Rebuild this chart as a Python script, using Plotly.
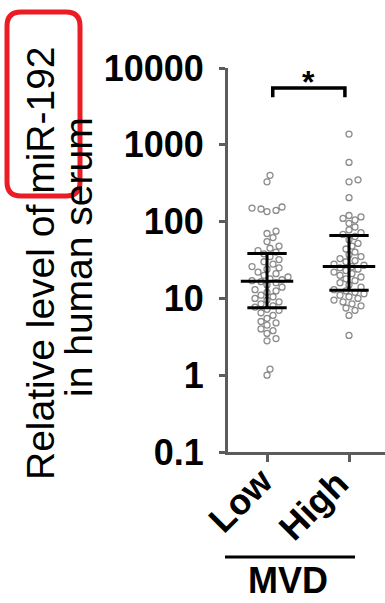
import numpy as np
import plotly.graph_objects as go

# Relative serum miR-192 levels by microvessel density (MVD) group
categories = ["Low", "High"]

low_mvd = [400, 330, 155, 150, 146, 140, 135,
           75, 70, 62, 55,
           48, 45, 42, 40, 38,
           35, 32, 30, 28, 26, 25, 24, 22, 21, 20, 19, 18, 17.5, 17, 16.5,
           16, 15, 14, 13, 12.5, 12, 11, 10.5, 10, 9.5, 9, 8.5, 8, 7.7,
           7.2, 7, 6.5, 6, 5.5, 5, 4.8, 4.5, 4, 3.8, 3.5, 3, 2.8,
           1.2, 1.0]

high_mvd = [1380, 590, 350, 330, 205, 120, 115, 110, 105,
            95, 85, 78, 72, 68, 64,
            58, 52, 48, 44, 40, 37, 35, 33, 31, 30, 28, 27, 26,
            25, 24, 23, 22, 21, 20, 19, 18, 17, 16, 15, 14, 13, 12.5,
            12, 11.5, 11, 10.5, 10, 9.5, 9, 8.5, 8, 7.5, 7, 6, 3.3]

groups = [low_mvd, high_mvd]

y_tick_vals = [0.1, 1, 10, 100, 1000, 10000]
y_tick_text = ["0.1", "1", "10", "100", "1000", "10000"]

# figure geometry (pixels)
W, H = 385, 603
ML, MR, MT, MB = 228, 0, 68, 151
PW, PH = W - ML - MR, H - MT - MB
X_RANGE = [-0.476, 1.439]
Y_RANGE = [-1, 4]
px_per_x = PW / (X_RANGE[1] - X_RANGE[0])
px_per_dec = PH / (Y_RANGE[1] - Y_RANGE[0])


def beeswarm(values, min_dist=6.5, step=3.0):
    """Horizontal offsets (in x data units) so markers do not overlap."""
    ys = np.log10(np.asarray(values, dtype=float)) * px_per_dec
    order = np.argsort(ys)
    placed = []
    offsets = np.zeros(len(ys))
    for i in order:
        k = 0
        while True:
            cands = [0.0] if k == 0 else [k * step, -k * step]
            ok = None
            for c in cands:
                if all((c - px) ** 2 + (ys[i] - py) ** 2 >= min_dist ** 2 for px, py in placed):
                    ok = c
                    break
            if ok is not None:
                placed.append((ok, ys[i]))
                offsets[i] = ok
                break
            k += 1
    return offsets / px_per_x


def px2paper_x(px):
    return (px - ML) / PW


def px2paper_y(py):
    return (H - MB - py) / PH


fig = go.Figure()

for gi, vals in enumerate(groups):
    offs = beeswarm(vals)
    fig.add_trace(go.Scatter(
        x=gi + offs, y=vals, mode="markers",
        marker=dict(symbol="circle-open", size=6, color="rgba(120,120,120,0.85)",
                    line=dict(width=1.3)),
        hoverinfo="y", showlegend=False))

    q1, med, q3 = np.percentile(vals, [25, 50, 75])
    # median with interquartile range
    fig.add_trace(go.Scatter(x=[gi - 0.32, gi + 0.32], y=[med, med], mode="lines",
                             line=dict(color="black", width=3), showlegend=False, hoverinfo="skip"))
    for q in (q1, q3):
        fig.add_trace(go.Scatter(x=[gi - 0.24, gi + 0.24], y=[q, q], mode="lines",
                                 line=dict(color="black", width=3), showlegend=False, hoverinfo="skip"))
    fig.add_trace(go.Scatter(x=[gi, gi], y=[q1, q3], mode="lines",
                             line=dict(color="black", width=3), showlegend=False, hoverinfo="skip"))

# significance bracket
br_top, br_foot = 5500, 4150
fig.add_trace(go.Scatter(x=[0.07, 0.07, 0.95, 0.95], y=[br_foot, br_top, br_top, br_foot],
                         mode="lines", line=dict(color="black", width=3.5),
                         showlegend=False, hoverinfo="skip"))

FONT = "Liberation Sans, Arial, sans-serif"
tick_font = dict(family=FONT, size=36, color="black", weight="bold")
axis_col = "#5c5c5c"

fig.update_xaxes(range=X_RANGE, tickvals=[0, 1], showticklabels=False,
                 showline=True, linecolor=axis_col, linewidth=3, ticks="outside",
                 tickcolor=axis_col, tickwidth=2.5, ticklen=7, showgrid=False,
                 zeroline=False, automargin=False)
fig.update_yaxes(type="log", range=Y_RANGE, tickvals=y_tick_vals, ticktext=y_tick_text,
                 showline=True, linecolor=axis_col, linewidth=3, ticks="outside",
                 tickcolor=axis_col, tickwidth=2.5, ticklen=6, showgrid=False,
                 zeroline=False, tickfont=tick_font, ticklabelstandoff=8, automargin=False)

title_font = dict(family=FONT, size=39, color="black")
annotations = [
    dict(text="Relative level of miR-192", x=px2paper_x(40), y=px2paper_y(263),
         textangle=-90, font=title_font),
    dict(text="in human serum", x=px2paper_x(78), y=px2paper_y(257),
         textangle=-90, font=title_font),
    dict(text="*", x=px2paper_x(308), y=px2paper_y(82),
         font=dict(family=FONT, size=32, color="black", weight="bold")),
    dict(text="MVD", x=px2paper_x(288), y=px2paper_y(580),
         font=dict(family=FONT, size=36, color="black", weight="bold")),
]
# slanted category labels under each tick
for label, cx, cy in zip(categories, (240, 313), (500, 505)):
    annotations.append(dict(text=label, x=px2paper_x(cx), y=px2paper_y(cy), textangle=-45,
                            font=tick_font))
for a in annotations:
    a.update(xref="paper", yref="paper", showarrow=False, xanchor="center", yanchor="middle")


def rounded_rect(x0, y0, x1, y1, r):
    X = px2paper_x
    Y = px2paper_y
    return (f"M {X(x0 + r)} {Y(y0)} L {X(x1 - r)} {Y(y0)} Q {X(x1)} {Y(y0)} {X(x1)} {Y(y0 + r)} "
            f"L {X(x1)} {Y(y1 - r)} Q {X(x1)} {Y(y1)} {X(x1 - r)} {Y(y1)} "
            f"L {X(x0 + r)} {Y(y1)} Q {X(x0)} {Y(y1)} {X(x0)} {Y(y1 - r)} "
            f"L {X(x0)} {Y(y0 + r)} Q {X(x0)} {Y(y0)} {X(x0 + r)} {Y(y0)} Z")


shapes = [
    # group underline for MVD
    dict(type="line", xref="paper", yref="paper", x0=px2paper_x(225), x1=px2paper_x(355),
         y0=px2paper_y(557), y1=px2paper_y(557), line=dict(color="black", width=3)),
    # highlight box around the miR-192 label
    dict(type="path", xref="paper", yref="paper", path=rounded_rect(7, 12, 80, 196, 14),
         line=dict(color="#ec1c24", width=5), layer="above"),
]

fig.update_layout(width=W, height=H, margin=dict(l=ML, r=MR, t=MT, b=MB, autoexpand=False),
                  plot_bgcolor="white", paper_bgcolor="white",
                  annotations=annotations, shapes=shapes, showlegend=False)

fig.write_html("out.html")
